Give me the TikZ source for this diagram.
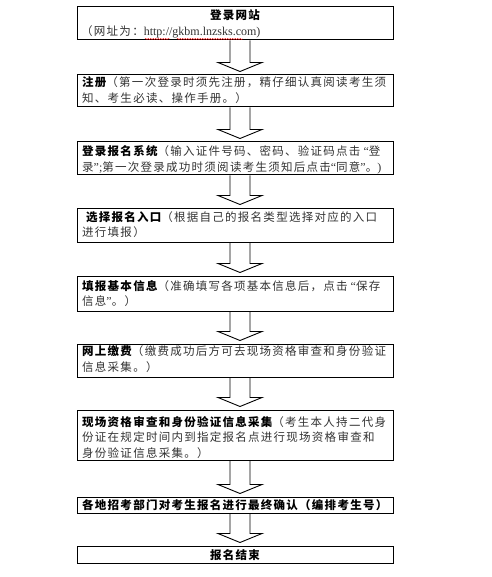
\documentclass[tikz,border=0pt]{standalone}
\usepackage{fontspec}
\setmainfont{Liberation Serif}
\newfontfamily\cjk{Noto Sans CJK SC}[LetterSpace=11]
\usetikzlibrary{decorations.pathmorphing}
\tikzset{
  stepbox/.style={draw, line width=1pt, minimum width=316pt, inner sep=0pt},
  blockarrow/.style={draw, line width=0.9pt, line join=miter},
  txt/.style={anchor=west, inner sep=0pt, align=left, text=black!80,
    font=\cjk\fontsize{11.5}{15.5}\selectfont},
  ttl/.style={inner sep=0pt, text=black, font=\cjk\bfseries\fontsize{11.5}{15.5}\selectfont},
}
\newcommand\blockarr[2]{%
  \draw[blockarrow] ([xshift=-5pt]#1.south) -- ([xshift=-5pt,yshift=12pt]#2.north)
    -- ([xshift=-17pt,yshift=12pt]#2.north) -- ([xshift=5pt,yshift=3pt]#2.north)
    -- ([xshift=27pt,yshift=12pt]#2.north) -- ([xshift=15pt,yshift=12pt]#2.north)
    -- ([xshift=15pt]#1.south);}
\newcommand\tb[1]{{\bfseries\color{black}#1}}
\newcommand\hw[1]{{\rmfamily\fontsize{12}{15.5}\selectfont #1}}
\begin{document}
\begin{tikzpicture}[x=1pt,y=-1pt]
\useasboundingbox[fill=white] (0,0) rectangle (491,577);
% boxes
\node[stepbox, minimum height=33pt] (b1) at (235,23.5) {};
\node[stepbox, minimum height=32pt] (b2) at (235,91) {};
\node[stepbox, minimum height=33pt] (b3) at (235,158.5) {};
\node[stepbox, minimum height=34pt] (b4) at (235,225) {};
\node[stepbox, minimum height=35pt] (b5) at (235,293.5) {};
\node[stepbox, minimum height=33pt] (b6) at (235,360.5) {};
\node[stepbox, minimum height=50pt] (b7) at (235,435) {};
\node[stepbox, minimum height=16pt] (b8) at (235,505) {};
\node[stepbox, minimum height=17pt] (b9) at (235,554.5) {};
% arrows
\blockarr{b1}{b2}
\blockarr{b2}{b3}
\blockarr{b3}{b4}
\blockarr{b4}{b5}
\blockarr{b5}{b6}
\blockarr{b6}{b7}
\blockarr{b7}{b8}
\blockarr{b8}{b9}
% texts
\node[ttl] (t1a) at (235,15) {登录网站};
\node[anchor=west, inner sep=0pt, text=black!80, font=\fontsize{12}{14}\selectfont] (t1b) at (81,32) {{\cjk\fontsize{11.5}{14}\selectfont（网址为：}http://gkbm.lnzsks.com)};
\draw[red, line width=0.4pt, decorate, decoration={snake, amplitude=0.6pt, segment length=2.5pt}] (145,39) -- (170,39);
\draw[red, line width=0.4pt, decorate, decoration={snake, amplitude=0.6pt, segment length=2.5pt}] (177,39) -- (243,39);
\node[txt] (t2) at (82,90) {\tb{注册}（第一次登录时须先注册，精仔细认真阅读考生须\\知、考生必读、操作手册。）};
\node[txt] (t3) at (82,160) {\tb{登录报名系统}（输入证件号码、密码、验证码点击\hw{ “}登\\录\hw{”;}第一次登录成功时须阅读考生须知后点击\hw{“}同意\hw{”}。\hw{)}};
\node[txt] (t4) at (82,224.5) {\ \tb{选择报名入口}（根据自己的报名类型选择对应的入口\\进行填报）};
\node[txt] (t5) at (82,293.5) {\tb{填报基本信息}（准确填写各项基本信息后，点击\hw{ “}保存\\信息\hw{”}。）};
\node[txt] (t6) at (82,359) {\tb{网上缴费}（缴费成功后方可去现场资格审查和身份验证\\信息采集。）};
\node[txt] (t7) at (82,437.5) {\tb{现场资格审查和身份验证信息采集}（考生本人持二代身\\份证在规定时间内到指定报名点进行现场资格审查和\\身份验证信息采集。）};
\node[txt, text=black] (t8) at (82,505) {\bfseries 各地招考部门对考生报名进行最终确认（编排考生号）};
\node[ttl] (t9) at (235,555) {报名结束};
\end{tikzpicture}
\end{document}
